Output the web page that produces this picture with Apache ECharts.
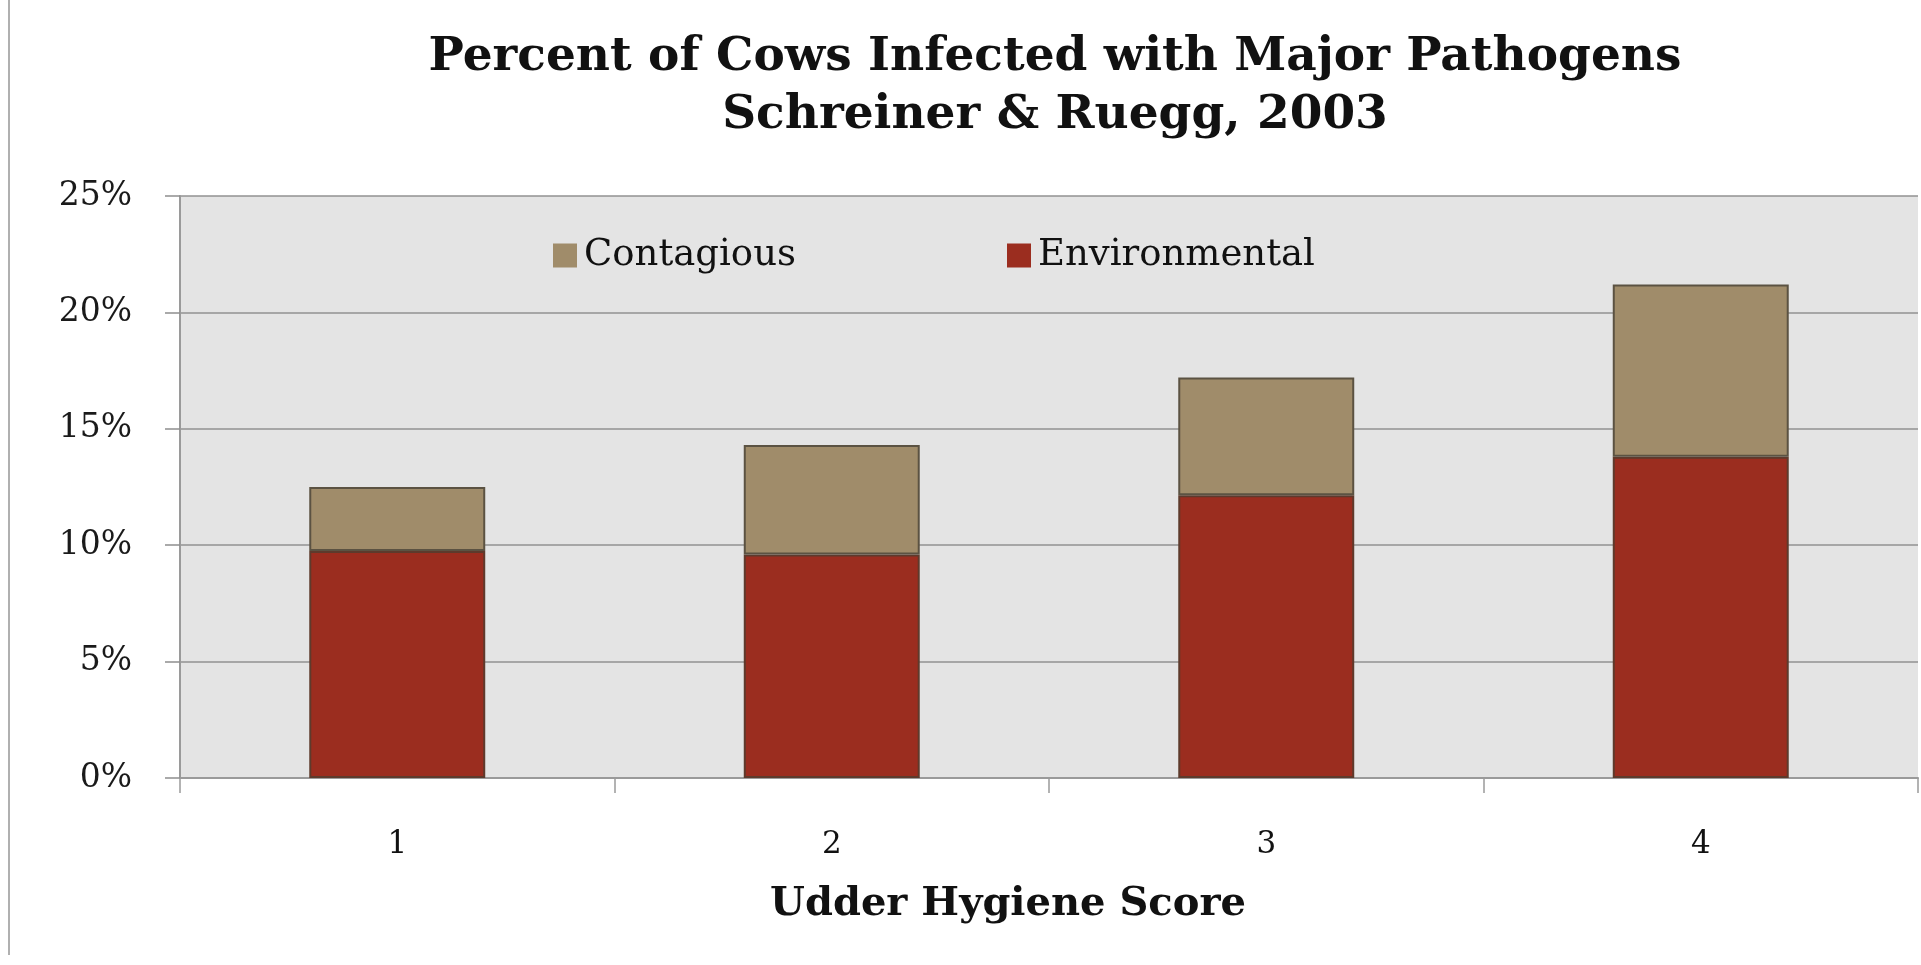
<!DOCTYPE html>
<html>
<head>
<meta charset="utf-8">
<title>Percent of Cows Infected with Major Pathogens</title>
<script src="https://cdn.jsdelivr.net/npm/echarts@6/dist/echarts.min.js"></script>
<style>
  html, body { margin: 0; padding: 0; background: #ffffff; }
  #chart { width: 1921px; height: 965px; }
</style>
</head>
<body>
<div id="chart"></div>
<script>
// Udder hygiene score categories
const scores = ['1', '2', '3', '4'];
// Percent of cows infected, split by pathogen type
const environmental = [9.75, 9.6, 12.15, 13.8];
const contagious = [2.75, 4.7, 5.05, 7.4];
// Value axis ticks (percent)
const yMin = 0, yMax = 25, yStep = 5;

const serif = 'DejaVu Serif';
const chart = echarts.init(document.getElementById('chart'));

chart.setOption({
  animation: false,
  backgroundColor: '#ffffff',
  title: [
    {
      text: 'Percent of Cows Infected with Major Pathogens\nSchreiner & Ruegg, 2003',
      left: 1050,
      top: 24,
      textAlign: 'center',
      textStyle: {
        fontFamily: serif,
        fontWeight: 'bold',
        fontSize: 47,
        lineHeight: 58,
        color: '#111111'
      }
    },
    {
      text: 'Udder Hygiene Score',
      left: 1003,
      top: 880,
      textAlign: 'center',
      textStyle: {
        fontFamily: serif,
        fontWeight: 'bold',
        fontSize: 40,
        color: '#111111'
      }
    }
  ],
  legend: [
    {
      data: ['Contagious'],
      left: 548,
      top: 232,
      itemWidth: 24,
      itemHeight: 24,
      itemGap: 10,
      icon: 'rect',
      itemStyle: { borderWidth: 0 },
      textStyle: { fontFamily: serif, fontSize: 37, color: '#111111', padding: [0, 0, 0, 2] }
    },
    {
      data: ['Environmental'],
      left: 1002,
      top: 232,
      itemWidth: 24,
      itemHeight: 24,
      itemGap: 10,
      icon: 'rect',
      itemStyle: { borderWidth: 0 },
      textStyle: { fontFamily: serif, fontSize: 37, color: '#111111', padding: [0, 0, 0, 2] }
    }
  ],
  grid: {
    left: 180,
    right: 3,
    top: 196,
    bottom: 187,
    show: true,
    backgroundColor: '#e4e4e4',
    borderWidth: 0
  },
  xAxis: {
    type: 'category',
    data: scores,
    axisLine: { show: true, lineStyle: { color: '#9a9a9a', width: 2 } },
    axisTick: { show: true, length: 15, lineStyle: { color: '#9a9a9a', width: 1.5 } },
    axisLabel: {
      margin: 51,
      fontFamily: serif,
      fontSize: 31,
      color: '#111111'
    },
    splitLine: { show: false }
  },
  yAxis: {
    type: 'value',
    min: yMin,
    max: yMax,
    interval: yStep,
    axisLine: { show: true, lineStyle: { color: '#9a9a9a', width: 2 } },
    axisTick: { show: true, length: 15, lineStyle: { color: '#8e8e8e', width: 1.5 } },
    axisLabel: {
      margin: 48,
      fontFamily: serif,
      fontSize: 33,
      color: '#1a1a1a',
      formatter: '{value}%'
    },
    splitLine: { show: true, lineStyle: { color: '#929292', width: 1.5 } }
  },
  series: [
    {
      name: 'Environmental',
      type: 'bar',
      stack: 'infected',
      data: environmental,
      barWidth: '40.5%',
      itemStyle: { color: '#9b2d1f', borderColor: '#5e3a2c', borderWidth: 2 }
    },
    {
      name: 'Contagious',
      type: 'bar',
      stack: 'infected',
      data: contagious,
      barWidth: '40.5%',
      itemStyle: { color: '#a08c6a', borderColor: '#5b5242', borderWidth: 2 }
    }
  ],
  graphic: [
    {
      type: 'line',
      shape: { x1: 9, y1: 0, x2: 9, y2: 955 },
      style: { stroke: '#b0b0b0', lineWidth: 2 }
    }
  ]
});
</script>
</body>
</html>
